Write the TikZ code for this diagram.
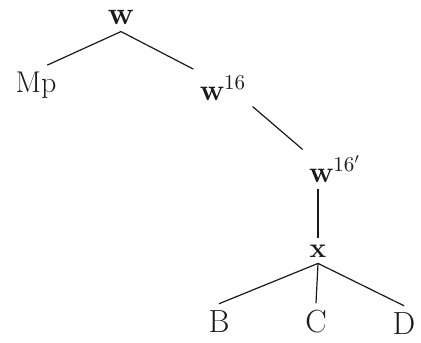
\documentclass[tikz,border=0pt]{standalone}
\usetikzlibrary{calc}
\definecolor{ink}{HTML}{1A1A1A}
\tikzset{
  siglum/.style={anchor=base,inner sep=3pt,text=ink,font=\fontsize{15}{17}\selectfont\bfseries},
  witness/.style={anchor=base,inner sep=3pt,text=ink,font=\fontsize{16}{18}\selectfont},
  branch/.style={draw=ink,line width=0.6pt}
}
\begin{document}
\begin{tikzpicture}[x=0.5pt,y=-0.5pt]
        \useasboundingbox (0,0) rectangle (421,342);

        \node[siglum,font=\fontsize{16}{18}\selectfont\bfseries] (w) at (121,25) {w};
        \node[witness,font=\fontsize{15}{17}\selectfont] (Mp) at (36,92) {Mp};
        \node[siglum] (w16) at (223,100) {w\textsuperscript{\mdseries 16}};
        \node[siglum] (w16p) at (335,182) {w\textsuperscript{\mdseries 16$'$}};
        \node[siglum,font=\fontsize{14}{16}\selectfont\bfseries] (x) at (318,257) {x};
        \node[witness] (B) at (219,332) {B};
        \node[witness] (C) at (316,332) {C};
        \node[witness] (D) at (404,334) {D};

        \draw[branch] (w.south) -- (Mp.60);
        \draw[branch] (w.south) -- (w16.north west);
        \draw[branch] (w16.south east) -- (w16p.north west);
        \draw[branch] (x.north |- w16p.south) -- (x.north);
        \foreach \leaf in {B,C,D}
          \draw[branch] (x.south) -- (\leaf.north);
      \end{tikzpicture}
\end{document}
